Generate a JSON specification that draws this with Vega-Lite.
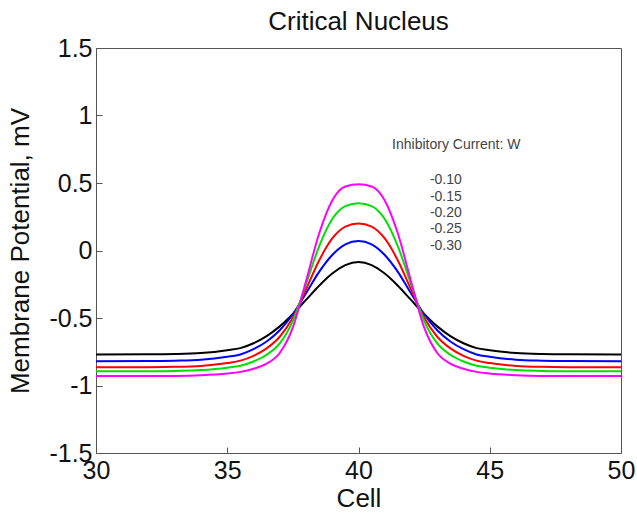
{
  "$schema": "https://vega.github.io/schema/vega-lite/v6.json",
  "autosize": "none",
  "width": 525,
  "height": 405,
  "padding": {"left": 96, "top": 48, "right": 16, "bottom": 61},
  "background": "white",
  "title": {"text": "Critical Nucleus", "font": "Liberation Sans", "fontSize": 26, "fontWeight": "normal", "color": "#111", "anchor": "middle", "frame": "group", "offset": 1},
  "config": {
    "view": {"stroke": "#555", "strokeWidth": 1},
    "axis": {"grid": false, "domainColor": "#555", "tickColor": "#555", "labelFont": "Liberation Sans", "titleFont": "Liberation Sans", "labelFontSize": 25, "titleFontSize": 26, "labelColor": "#111", "titleColor": "#111", "titleFontWeight": "normal", "labelFlush": false, "labelOverlap": false}
  },
  "layer": [
    {
      "data": {"values": [
        {"x":30,"y":-0.770,"s":"k"},{"x":32,"y":-0.769,"s":"k"},{"x":33,"y":-0.767,"s":"k"},{"x":34,"y":-0.760,"s":"k"},{"x":35,"y":-0.739,"s":"k"},{"x":35.5,"y":-0.723,"s":"k"},{"x":36,"y":-0.687,"s":"k"},{"x":36.5,"y":-0.634,"s":"k"},{"x":37,"y":-0.562,"s":"k"},{"x":37.5,"y":-0.470,"s":"k"},{"x":38,"y":-0.366,"s":"k"},{"x":38.5,"y":-0.261,"s":"k"},{"x":39,"y":-0.171,"s":"k"},{"x":39.5,"y":-0.108,"s":"k"},{"x":40,"y":-0.085,"s":"k"},{"x":40.5,"y":-0.108,"s":"k"},{"x":41,"y":-0.171,"s":"k"},{"x":41.5,"y":-0.261,"s":"k"},{"x":42,"y":-0.366,"s":"k"},{"x":42.5,"y":-0.470,"s":"k"},{"x":43,"y":-0.562,"s":"k"},{"x":43.5,"y":-0.634,"s":"k"},{"x":44,"y":-0.687,"s":"k"},{"x":44.5,"y":-0.723,"s":"k"},{"x":45,"y":-0.739,"s":"k"},{"x":46,"y":-0.760,"s":"k"},{"x":47,"y":-0.767,"s":"k"},{"x":48,"y":-0.769,"s":"k"},{"x":50,"y":-0.770,"s":"k"},
        {"x":30,"y":-0.820,"s":"b"},{"x":32,"y":-0.819,"s":"b"},{"x":33,"y":-0.816,"s":"b"},{"x":34,"y":-0.809,"s":"b"},{"x":35,"y":-0.787,"s":"b"},{"x":35.5,"y":-0.770,"s":"b"},{"x":36,"y":-0.731,"s":"b"},{"x":36.5,"y":-0.674,"s":"b"},{"x":37,"y":-0.591,"s":"b"},{"x":37.5,"y":-0.472,"s":"b"},{"x":38,"y":-0.317,"s":"b"},{"x":38.5,"y":-0.158,"s":"b"},{"x":39,"y":-0.033,"s":"b"},{"x":39.5,"y":0.046,"s":"b"},{"x":40,"y":0.070,"s":"b"},{"x":40.5,"y":0.046,"s":"b"},{"x":41,"y":-0.033,"s":"b"},{"x":41.5,"y":-0.158,"s":"b"},{"x":42,"y":-0.317,"s":"b"},{"x":42.5,"y":-0.472,"s":"b"},{"x":43,"y":-0.591,"s":"b"},{"x":43.5,"y":-0.674,"s":"b"},{"x":44,"y":-0.731,"s":"b"},{"x":44.5,"y":-0.770,"s":"b"},{"x":45,"y":-0.787,"s":"b"},{"x":46,"y":-0.809,"s":"b"},{"x":47,"y":-0.816,"s":"b"},{"x":48,"y":-0.819,"s":"b"},{"x":50,"y":-0.820,"s":"b"},
        {"x":30,"y":-0.865,"s":"r"},{"x":32,"y":-0.864,"s":"r"},{"x":33,"y":-0.862,"s":"r"},{"x":34,"y":-0.855,"s":"r"},{"x":35,"y":-0.834,"s":"r"},{"x":35.5,"y":-0.816,"s":"r"},{"x":36,"y":-0.780,"s":"r"},{"x":36.5,"y":-0.725,"s":"r"},{"x":37,"y":-0.639,"s":"r"},{"x":37.5,"y":-0.497,"s":"r"},{"x":38,"y":-0.288,"s":"r"},{"x":38.5,"y":-0.074,"s":"r"},{"x":39,"y":0.089,"s":"r"},{"x":39.5,"y":0.177,"s":"r"},{"x":40,"y":0.200,"s":"r"},{"x":40.5,"y":0.177,"s":"r"},{"x":41,"y":0.089,"s":"r"},{"x":41.5,"y":-0.074,"s":"r"},{"x":42,"y":-0.288,"s":"r"},{"x":42.5,"y":-0.497,"s":"r"},{"x":43,"y":-0.639,"s":"r"},{"x":43.5,"y":-0.725,"s":"r"},{"x":44,"y":-0.780,"s":"r"},{"x":44.5,"y":-0.816,"s":"r"},{"x":45,"y":-0.834,"s":"r"},{"x":46,"y":-0.855,"s":"r"},{"x":47,"y":-0.862,"s":"r"},{"x":48,"y":-0.864,"s":"r"},{"x":50,"y":-0.865,"s":"r"},
        {"x":30,"y":-0.895,"s":"g"},{"x":32,"y":-0.895,"s":"g"},{"x":33,"y":-0.892,"s":"g"},{"x":34,"y":-0.886,"s":"g"},{"x":35,"y":-0.868,"s":"g"},{"x":35.5,"y":-0.853,"s":"g"},{"x":36,"y":-0.822,"s":"g"},{"x":36.5,"y":-0.772,"s":"g"},{"x":37,"y":-0.688,"s":"g"},{"x":37.5,"y":-0.521,"s":"g"},{"x":38,"y":-0.249,"s":"g"},{"x":38.5,"y":0.031,"s":"g"},{"x":39,"y":0.233,"s":"g"},{"x":39.5,"y":0.329,"s":"g"},{"x":40,"y":0.350,"s":"g"},{"x":40.5,"y":0.329,"s":"g"},{"x":41,"y":0.233,"s":"g"},{"x":41.5,"y":0.031,"s":"g"},{"x":42,"y":-0.249,"s":"g"},{"x":42.5,"y":-0.521,"s":"g"},{"x":43,"y":-0.688,"s":"g"},{"x":43.5,"y":-0.772,"s":"g"},{"x":44,"y":-0.822,"s":"g"},{"x":44.5,"y":-0.853,"s":"g"},{"x":45,"y":-0.868,"s":"g"},{"x":46,"y":-0.886,"s":"g"},{"x":47,"y":-0.892,"s":"g"},{"x":48,"y":-0.895,"s":"g"},{"x":50,"y":-0.895,"s":"g"},
        {"x":30,"y":-0.930,"s":"m"},{"x":32,"y":-0.930,"s":"m"},{"x":33,"y":-0.929,"s":"m"},{"x":34,"y":-0.924,"s":"m"},{"x":35,"y":-0.911,"s":"m"},{"x":35.5,"y":-0.899,"s":"m"},{"x":36,"y":-0.876,"s":"m"},{"x":36.5,"y":-0.838,"s":"m"},{"x":37,"y":-0.759,"s":"m"},{"x":37.5,"y":-0.570,"s":"m"},{"x":38,"y":-0.227,"s":"m"},{"x":38.5,"y":0.126,"s":"m"},{"x":39,"y":0.371,"s":"m"},{"x":39.5,"y":0.474,"s":"m"},{"x":40,"y":0.490,"s":"m"},{"x":40.5,"y":0.474,"s":"m"},{"x":41,"y":0.371,"s":"m"},{"x":41.5,"y":0.126,"s":"m"},{"x":42,"y":-0.227,"s":"m"},{"x":42.5,"y":-0.570,"s":"m"},{"x":43,"y":-0.759,"s":"m"},{"x":43.5,"y":-0.838,"s":"m"},{"x":44,"y":-0.876,"s":"m"},{"x":44.5,"y":-0.899,"s":"m"},{"x":45,"y":-0.911,"s":"m"},{"x":46,"y":-0.924,"s":"m"},{"x":47,"y":-0.929,"s":"m"},{"x":48,"y":-0.930,"s":"m"},{"x":50,"y":-0.930,"s":"m"}
      ]},
      "mark": {"type": "line", "interpolate": "monotone", "strokeWidth": 2, "clip": true},
      "encoding": {
        "x": {"field": "x", "type": "quantitative", "scale": {"domain": [30, 50], "nice": false, "zero": false},
              "axis": {"title": "Cell", "values": [30, 35, 40, 45, 50], "labelExpr": "datum.value + ''", "tickSize": -6, "labelPadding": 11, "titleX": 262.5, "titleY": 45, "titleBaseline": "middle", "titleAnchor": null}},
        "y": {"field": "y", "type": "quantitative", "scale": {"domain": [-1.5, 1.5], "nice": false, "zero": false},
              "axis": {"title": "Membrane Potential, mV", "values": [-1.5, -1, -0.5, 0, 0.5, 1, 1.5], "labelExpr": "datum.value + ''", "tickSize": -6, "labelPadding": 10, "titleX": -76, "titleY": 202.5, "titleAngle": -90, "titleAlign": "center", "titleBaseline": "middle"}},
        "color": {"field": "s", "type": "nominal", "legend": null,
                  "scale": {"domain": ["k", "b", "r", "g", "m"], "range": ["#000000", "#0000ff", "#ff0000", "#00e000", "#ff00ff"]}},
        "order": {"field": "x", "type": "quantitative"}
      }
    },
    {
      "data": {"values": [
        {"x": 41.28, "y": 0.781, "t": "Inhibitory Current: W"},
        {"x": 42.72, "y": 0.522, "t": "-0.10"},
        {"x": 42.72, "y": 0.400, "t": "-0.15"},
        {"x": 42.72, "y": 0.278, "t": "-0.20"},
        {"x": 42.72, "y": 0.156, "t": "-0.25"},
        {"x": 42.72, "y": 0.033, "t": "-0.30"}
      ]},
      "mark": {"type": "text", "align": "left", "baseline": "middle", "font": "Liberation Sans", "fontSize": 14, "color": "#444"},
      "encoding": {
        "x": {"field": "x", "type": "quantitative"},
        "y": {"field": "y", "type": "quantitative"},
        "text": {"field": "t", "type": "nominal"}
      }
    }
  ]
}
